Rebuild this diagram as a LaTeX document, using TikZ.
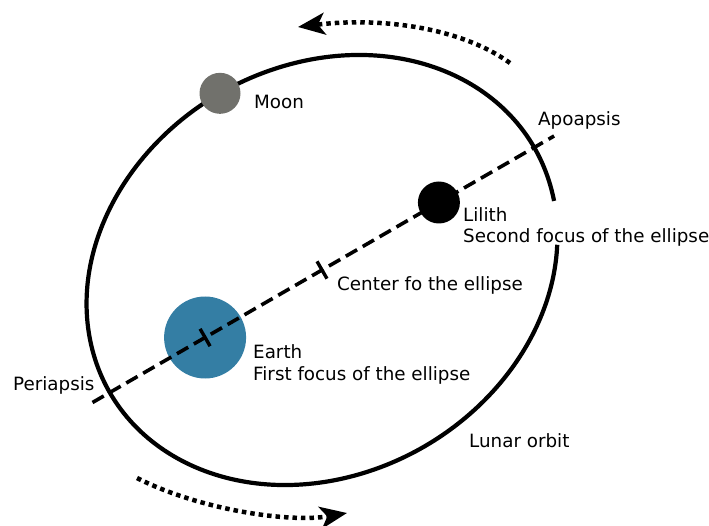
\documentclass[tikz,border=0pt]{standalone}
\usepackage{fontspec}
\setmainfont{DejaVu Sans}
\usetikzlibrary{arrows.meta}

\definecolor{earthblue}{RGB}{52,126,164}
\definecolor{moongray}{RGB}{113,113,108}

\begin{document}
\begin{tikzpicture}[x=1pt, y=1pt, >={Stealth[length=27pt,width=22pt,inset=7pt]},
  orbit/.style={line width=4.2pt},
  axisline/.style={line width=3.6pt, dash pattern=on 13pt off 6.5pt},
  tickmark/.style={line width=3.4pt},
  motion/.style={->, line width=4.5pt, dash pattern=on 4.5pt off 4pt},
  body/.style={circle, inner sep=0pt},
  lbl/.style={inner sep=0pt, anchor=base west, align=left,
    font=\fontsize{18.3}{21.5}\selectfont}]
  \useasboundingbox (0,0) rectangle (709,525);
  % Orbit, major axis and foci (rotated frame)
  \begin{scope}[shift={(322,255)}, rotate=30]
    \draw[orbit] (-16:245 and 204) arc[start angle=-16, end angle=332, x radius=245, y radius=204];
    \coordinate (peri) at (-265,0);
    \coordinate (apo) at (268,0);
    \coordinate (f1) at (-135,0);
    \coordinate (ctr) at (0,0);
    \coordinate (f2) at (135,0);
    \coordinate (moonpos) at (0,204);
    \node[body, fill=earthblue, minimum size=82pt] (earth) at (f1) {};
    \draw[axisline] (peri) -- (apo);
    \draw[tickmark] (-135,-10) -- (-135,10);
    \draw[tickmark] (0,-10) -- (0,10);
  \end{scope}
  % Bodies
  \node[body, fill=black, minimum size=42pt] (lilith) at (f2) {};
  \node[body, fill=moongray, minimum size=41pt] (moon) at (moonpos) {};
  % Labels
  \node[lbl] (moonlbl) at (254,416) {Moon};
  \node[lbl] (apolbl) at (538,399) {Apoapsis};
  \node[lbl] (lilithlbl) at (463,282) {Lilith\\Second focus of the ellipse};
  \node[lbl] (ctrlbl) at (337,234) {Center fo the ellipse};
  \node[lbl] (earthlbl) at (253,145) {Earth\\First focus of the ellipse};
  \node[lbl] (perilbl) at (13,135) {Periapsis};
  \node[lbl] (orbitlbl) at (469,78) {Lunar orbit};
  % Direction of motion
  \coordinate (topstart) at (510,462);
  \coordinate (toptip) at (298,498);
  \coordinate (botstart) at (137,47);
  \coordinate (bottip) at (347,12);
  \draw[motion] (topstart) .. controls (460,498) and (380,508) .. (toptip);
  \draw[motion] (botstart) .. controls (200,15) and (290,2) .. (bottip);
\end{tikzpicture}
\end{document}
